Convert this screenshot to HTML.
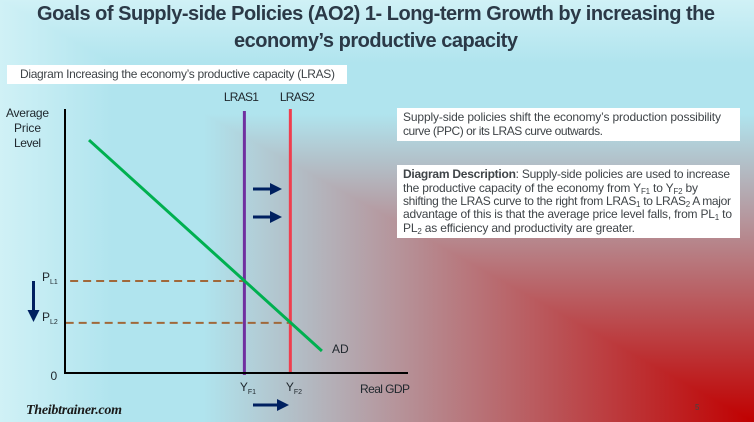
<!DOCTYPE html>
<html lang="en">
<head>
<meta charset="utf-8">
<title>Goals of Supply-side Policies</title>
<style>
html,body{margin:0;padding:0;width:754px;height:422px;overflow:hidden;background:#b0e4ee}
svg{display:block;position:absolute;left:0;top:0}
text{font-family:"Liberation Sans",sans-serif}
.t{font-size:12px;fill:#3f4448}
.c{font-size:12px;fill:#20282e}
.h{font-size:20px;font-weight:700;fill:#2b3947}
.s{font-size:8px}
</style>
</head>
<body>
<svg id="slide" width="754" height="422" viewBox="0 0 754 422" xmlns="http://www.w3.org/2000/svg">
  <defs>
    <linearGradient id="gx" gradientUnits="userSpaceOnUse" x1="0" y1="0" x2="754" y2="0">
      <stop offset="0" stop-color="#d0f1f6"/><stop offset=".15" stop-color="#b0e4ee"/><stop offset=".27" stop-color="#b0e4ee"/><stop offset="1" stop-color="#c00000"/>
    </linearGradient>
    <linearGradient id="gy" gradientUnits="userSpaceOnUse" x1="0" y1="0" x2="0" y2="422">
      <stop offset="0" stop-color="#d0f1f6"/><stop offset=".15" stop-color="#b0e4ee"/><stop offset=".27" stop-color="#b0e4ee"/><stop offset="1" stop-color="#c00000"/>
    </linearGradient>
  </defs>
  <rect width="754" height="422" fill="url(#gx)"/>
  <polygon points="0,0 754,0 754,422" fill="url(#gy)"/>

  <text class="h" x="37" y="20" textLength="678">Goals of Supply-side Policies (AO2) 1- Long-term Growth by increasing the</text>
  <text class="h" x="234" y="47" textLength="284">economy’s productive capacity</text>

  <rect x="7" y="65" width="340" height="19" fill="#fff"/>
  <text class="t" x="20" y="78" textLength="315">Diagram Increasing the economy’s productive capacity (LRAS)</text>

  <rect x="397" y="108" width="343" height="33" fill="#fff"/>
  <text class="t" x="403" y="121" textLength="318">Supply-side policies shift the economy’s production possibility</text>
  <text class="t" x="403" y="135" textLength="200">curve (PPC) or its LRAS curve outwards.</text>

  <rect x="397" y="165" width="343" height="73" fill="#fff"/>
  <text class="t" x="403" y="178" textLength="327"><tspan font-weight="700">Diagram Description</tspan>: Supply-side policies are used to increase</text>
  <text class="t" x="403" y="192" textLength="295">the productive capacity of the economy from Y<tspan class="s" dy="2">F1</tspan><tspan dy="-2"> to Y</tspan><tspan class="s" dy="2">F2</tspan><tspan dy="-2"> by</tspan></text>
  <text class="t" x="403" y="205" textLength="328">shifting the LRAS curve to the right from LRAS<tspan class="s" dy="2">1</tspan><tspan dy="-2"> to LRAS</tspan><tspan class="s" dy="2">2</tspan><tspan dy="-2"> A major</tspan></text>
  <text class="t" x="403" y="218" textLength="329">advantage of this is that the average price level falls, from PL<tspan class="s" dy="2">1</tspan><tspan dy="-2"> to</tspan></text>
  <text class="t" x="403" y="232" textLength="232">PL<tspan class="s" dy="2">2</tspan><tspan dy="-2"> as efficiency and productivity are greater.</tspan></text>

  <g id="chart"></g>

  <text class="c" x="27.5" y="117" text-anchor="middle" textLength="43">Average</text>
  <text class="c" x="27.5" y="132" text-anchor="middle" textLength="27">Price</text>
  <text class="c" x="27.5" y="147" text-anchor="middle" textLength="27">Level</text>
  <text class="c" x="360" y="393" textLength="50">Real GDP</text>
  <text class="c" x="50.5" y="380" textLength="8">0</text>

  <text x="26" y="414" textLength="96" style="font-family:'Liberation Serif',serif;font-style:italic;font-weight:700;font-size:14px;fill:#1a1a1a">Theibtrainer.com</text>
  <text x="695" y="410" style="font-size:8px;fill:#444">5</text>
</svg>
<script>
var lrasNames = ["LRAS1", "LRAS2"];
var lrasOutput = [52.3, 65.7];
var priceNames = ["L1", "L2"];
var priceLevels = [34.7, 18.9];
var adOutput = [7, 74.9];
var adPrice = [87.9, 8.3];

var svgNS = "http://www.w3.org/2000/svg";
var chart = document.getElementById("chart");
function xAxis(v) { return 65 + v * 3.43; }
function yAxis(v) { return 373 - v * 2.65; }

function line(name, x1, y1, x2, y2, color, width, dash) {
  var el = document.createElementNS(svgNS, "line");
  el.setAttribute("x1", x1);
  el.setAttribute("y1", y1);
  el.setAttribute("x2", x2);
  el.setAttribute("y2", y2);
  el.setAttribute("stroke", color);
  el.setAttribute("stroke-width", width);
  if (dash) el.setAttribute("stroke-dasharray", dash);
  
  
  chart.appendChild(el);
}
function label(name, x, y, main, sub, length) {
  var el = document.createElementNS(svgNS, "text");
  el.setAttribute("x", x);
  el.setAttribute("y", y);
  el.setAttribute("class", "c");
  if (length) el.setAttribute("textLength", length);
  el.textContent = main;
  if (sub) {
    var s = document.createElementNS(svgNS, "tspan");
    s.setAttribute("class", "s");
    s.setAttribute("dy", "3");
    s.style.fontSize = "7px";
    s.textContent = sub;
    el.appendChild(s);
  }
  
  
  chart.appendChild(el);
}
function arrow(name, x1, y1, x2, y2) {
  var dx = x2 > x1 ? 1 : 0, dy = y2 > y1 ? 1 : 0;
  line(name + "-shaft", x1, y1, x2 - dx * 11, y2 - dy * 11, "#002060", 3);
  var el = document.createElementNS(svgNS, "polygon");
  var pts = dx
    ? [x2, y2, x2 - 12, y2 - 6, x2 - 12, y2 + 6]
    : [x2, y2, x2 - 6, y2 - 12, x2 + 6, y2 - 12];
  el.setAttribute("points", pts.join(" "));
  el.setAttribute("fill", "#002060");
  
  
  chart.appendChild(el);
}

priceLevels.forEach(function (p, i) {
  var x0 = i === 0 ? xAxis(1.5) : xAxis(0.2);
  line("price-guide-" + priceNames[i].toLowerCase(), x0, yAxis(p), xAxis(lrasOutput[i]), yAxis(p), "#a0683a", 2, "8 5");
  label("price-label-" + priceNames[i].toLowerCase(), 42, yAxis(p) - i * 2, "P", priceNames[i]);
});

var lrasColors = ["#7030a0", "#ef3e4e"];
var lrasLabelOffsets = [-20.5, -10.5];
lrasOutput.forEach(function (q, i) {
  var top = i === 0 ? 111 : 109;
  var bottom = i === 0 ? 375 : 373;
  line(lrasNames[i].toLowerCase() + "-line", xAxis(q), top, xAxis(q), bottom, lrasColors[i], 3);
  label(lrasNames[i].toLowerCase() + "-label", xAxis(q) + lrasLabelOffsets[i], 101, lrasNames[i], null, 35);
  label("output-label-f" + (i + 1), xAxis(q) - 4.5, 391, "Y", "F" + (i + 1));
});

line("ad-line", xAxis(adOutput[0]), yAxis(adPrice[0]), xAxis(adOutput[1]), yAxis(adPrice[1]), "#00b050", 3);
label("ad-label", 332, 353, "AD");

line("y-axis", 65, 109, 65, 374, "#000", 2);
line("x-axis", 64, 373, 408, 373, "#000", 2);

arrow("shift-arrow-upper", 253, 189, 282, 189);
arrow("shift-arrow-lower", 253, 217, 282, 217);
arrow("output-increase-arrow", 253, 405, 289, 405);
arrow("price-fall-arrow", 33.5, 281, 33.5, 322);
</script>
</body>
</html>
